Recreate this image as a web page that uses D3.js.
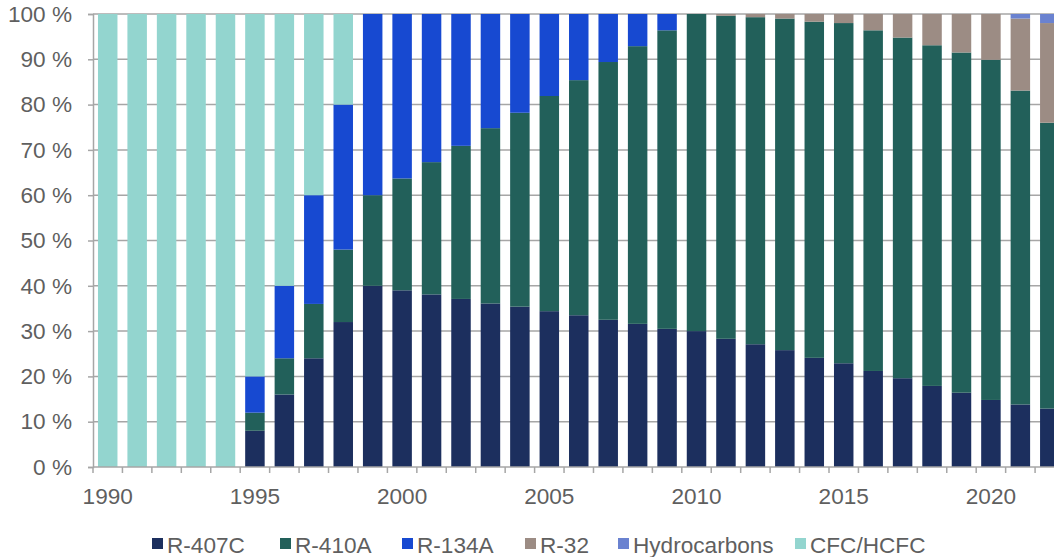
<!DOCTYPE html>
<html><head><meta charset="utf-8">
<script src="https://cdn.jsdelivr.net/npm/d3@7"></script>
<style>html,body{margin:0;padding:0;background:#fff;overflow:hidden}svg{display:block}text{font-family:"Liberation Sans",Arial,sans-serif;fill:#5f5f5f}</style>
</head><body><svg id="c" width="1054" height="557"></svg>
<script>
const years = d3.range(1990, 2023);
const seriesNames = ["R-407C","R-410A","R-134A","R-32","Hydrocarbons","CFC/HCFC"];
const colors = ["#1c2f5e","#22605a","#1749d1","#9c8c84","#6a82d0","#93d5cf"];
const r407c = [0,0,0,0,0,8,16,24,32,40,39,38.1,37.1,36.1,35.4,34.4,33.5,32.5,31.6,30.5,30,28.3,27.1,25.8,24.1,22.9,21.2,19.6,17.9,16.4,14.8,13.8,12.9];
const r410a = [0,0,0,0,0,4,8,12,16,20,24.7,29.2,33.8,38.7,42.8,47.5,51.9,56.9,61.3,65.9,70,71.3,72.2,73.2,74.2,75.1,75.2,75.2,75.2,75.1,75.1,69.3,63.1];
const r134a = [0,0,0,0,0,8,16,24,32,40,36.3,32.7,29.1,25.2,21.8,18.1,14.6,10.6,7.1,3.6,0,0,0,0,0,0,0,0,0,0,0,0,0];
const r32 = [0,0,0,0,0,0,0,0,0,0,0,0,0,0,0,0,0,0,0,0,0,0.4,0.7,1.0,1.7,2.0,3.6,5.2,6.9,8.5,10.1,15.9,22.0];
const hydrocarbons = [0,0,0,0,0,0,0,0,0,0,0,0,0,0,0,0,0,0,0,0,0,0,0,0,0,0,0,0,0,0,0,1.0,2.0];
const cfcHcfc = [100,100,100,100,100,80,60,40,20,0,0,0,0,0,0,0,0,0,0,0,0,0,0,0,0,0,0,0,0,0,0,0,0];
const yTicks = [0,10,20,30,40,50,60,70,80,90,100];
const xLabelYears = [1990,1995,2000,2005,2010,2015,2020];

const seriesValues = [r407c, r410a, r134a, r32, hydrocarbons, cfcHcfc];
const table = years.map((yr,i)=>{const o={year:yr}; seriesNames.forEach((n,k)=>o[n]=seriesValues[k][i]); return o;});
const stack = d3.stack().keys(seriesNames)(table);

const svg = d3.select("#c");
const plotLeft = 93, plotTop = 14, plotBottom = 467, rightEdge = 1054;
const fs = 22.6;
const x = d3.scaleBand().domain(years).range([plotLeft, plotLeft + 33*29.44]).paddingInner(0.338).paddingOuter(0.169);
const y = d3.scaleLinear().domain([0,100]).range([plotBottom, plotTop]);

// gridlines
svg.append("g").selectAll("line").data(yTicks.filter(d=>d>0)).join("line")
  .attr("x1", plotLeft).attr("x2", rightEdge).attr("y1", d=>y(d)).attr("y2", d=>y(d))
  .attr("stroke", "#a6a6a6").attr("stroke-width", 1.5);

// bars
const g = svg.append("g");
stack.forEach((s,k)=>{
  g.append("g").attr("fill", colors[k]).selectAll("rect").data(s.filter(d=>d[1]-d[0]>0)).join("rect")
    .attr("x", d=>x(d.data.year)).attr("width", x.bandwidth())
    .attr("y", d=>y(d[1])).attr("height", d=>y(d[0])-y(d[1]));
});

// y axis
const yAxis = d3.axisLeft(y).tickValues(yTicks).tickFormat(d=>d+" %").tickSize(5).tickPadding(16);
const ya = svg.append("g").attr("transform", `translate(${plotLeft},0)`).call(yAxis);
ya.select(".domain").attr("stroke","#a6a6a6").attr("stroke-width",1.5);
ya.selectAll(".tick line").attr("stroke","#a6a6a6").attr("stroke-width",1.5);
ya.selectAll("text").attr("font-size", fs).attr("fill","#5f5f5f").style("font-family","Liberation Sans, Arial, sans-serif");

// x axis: ticks at category boundaries
const step = x.step();
const boundaries = years.map(yr => x(yr) - (step - x.bandwidth())/2);
const xa = svg.append("g");
xa.append("line").attr("x1", plotLeft).attr("x2", rightEdge).attr("y1", plotBottom).attr("y2", plotBottom).attr("stroke","#a6a6a6").attr("stroke-width",1.5);
xa.selectAll("line.t").data(boundaries).join("line").attr("class","t")
  .attr("x1", d=>d).attr("x2", d=>d).attr("y1", plotBottom).attr("y2", plotBottom+6).attr("stroke","#a6a6a6").attr("stroke-width",1.5);
xa.selectAll("text").data(xLabelYears).join("text")
  .attr("x", d=>x(d)+x.bandwidth()/2).attr("y", 504).attr("text-anchor","middle").attr("font-size",fs).text(d=>d);

// legend
const legendX = [152, 280, 402, 525, 618, 795];
const lg = svg.append("g");
seriesNames.forEach((n,k)=>{
  lg.append("rect").attr("x", legendX[k]).attr("y", 538).attr("width", 11).attr("height", 11).attr("fill", colors[k]);
  lg.append("text").attr("x", legendX[k]+15).attr("y", 553).attr("font-size", fs).text(n);
});
</script></body></html>
